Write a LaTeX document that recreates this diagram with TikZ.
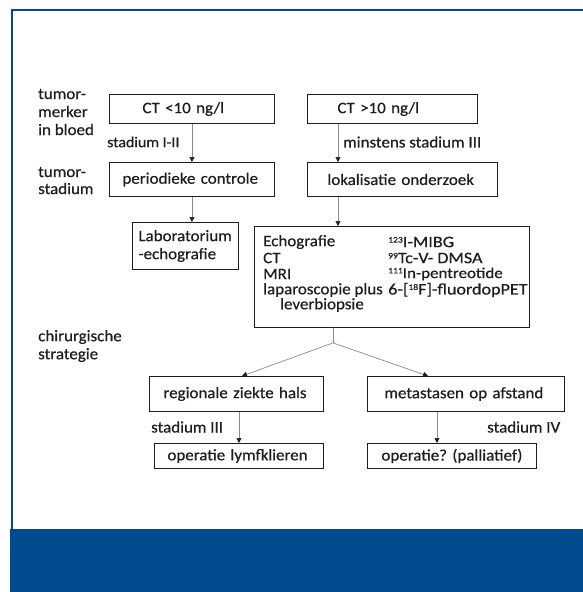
\documentclass[tikz,border=0pt]{standalone}
\usepackage{fontspec}
\setmainfont{Carlito}[FakeBold=0.6, FakeStretch=1.06]
\newfontfamily\widefont{Carlito}[FakeBold=0.6, FakeStretch=1.13]
\usetikzlibrary{arrows.meta,calc}
\definecolor{mblue}{HTML}{004A8F}
\definecolor{txt}{HTML}{1E1E1E}
\definecolor{lgray}{HTML}{8A8A8A}
\frenchspacing
\newcommand\supnum[1]{\raisebox{0.6ex}{\fontsize{8.5}{9}\selectfont #1}}
\begin{document}
\begin{tikzpicture}[x=1pt,y=-1pt,
  font=\fontsize{16}{18}\selectfont,
  box/.style={draw=txt, line width=0.9pt, inner ysep=0pt, text=txt, align=left, anchor=north west},
  lbl/.style={text=txt, align=left, anchor=west, inner sep=0pt},
  inb/.style={lbl, font=\fontsize{16}{16}\selectfont},
  inbw/.style={lbl, font=\widefont\fontsize{16}{16}\selectfont},
  arr/.style={draw=lgray, line width=0.7pt, -{Triangle[length=5pt,width=5pt,color=txt]}},
  ln/.style={draw=lgray, line width=0.7pt}]
\useasboundingbox (0,0) rectangle (583,592);
% frame
\fill[mblue] (10,529) rectangle (583,592);
\draw[mblue, line width=2.4pt] (12,529) -- (12,10) -- (583,10);
% left labels
\node[lbl] (l1) at (38,112) {tumor-\\merker\\in bloed};
\node[lbl, font=\fontsize{16}{17}\selectfont] (l2) at (38,180.5) {tumor-\\stadium};
\node[lbl] (l3) at (38,346) {chirurgische\\strategie};
% boxes
\node[box, minimum width=165pt, minimum height=29pt, text width=99pt, inner xsep=33pt] (ct1) at (109,94) {CT <10 ng/l};
\node[box, minimum width=170pt, minimum height=29pt, text width=110pt, inner xsep=30pt] (ct2) at (307,94) {CT >10 ng/l};
\node[box, minimum width=165pt, minimum height=34pt, text width=139pt, inner xsep=13pt] (per) at (109,162) {periodieke controle};
\node[box, minimum width=190pt, minimum height=34pt, text width=150pt, inner xsep=20pt] (lok) at (307,162) {lokalisatie onderzoek};
\node[box, minimum width=106pt, minimum height=47pt, text width=94pt, inner xsep=6pt] (lab) at (132,222) {Laboratorium\\-echografie};
\node[box, minimum width=275pt, minimum height=101pt, inner sep=0pt] (big) at (254,226) {};
\node[box, minimum width=174pt, minimum height=35pt, text width=146pt, inner xsep=14pt] (reg) at (149,376) {regionale ziekte hals};
\node[box, minimum width=197pt, minimum height=35pt, text width=163pt, inner xsep=17pt] (meta) at (367,376) {metastasen op afstand};
\node[box, minimum width=169pt, minimum height=25pt, text width=143pt, inner xsep=13pt] (op1) at (154,443) {operatie lymfklieren};
\node[box, minimum width=169pt, minimum height=25pt, text width=141pt, inner xsep=14pt] (op2) at (367,443) {operatie? (palliatief)};
% big box contents
\node[inb] (b1) at (263,242) {Echografie};
\node[inb] (b2) at (263,258) {CT};
\node[inb] (b3) at (263,274) {MRI};
\node[inb] (b4) at (263,290) {laparoscopie plus};
\node[inb] (b5) at (280,305) {leverbiopsie};
\node[inbw] (c1) at (388,242) {\supnum{123}I-MIBG};
\node[inbw] (c2) at (388,258) {\supnum{99}Tc-V- DMSA};
\node[inbw] (c3) at (388,274) {\supnum{111}{\fontsize{15}{15}\selectfont In-pentreotide}};
\node[inbw] (c4) at (388,290) {6-[\supnum{18}F]-fluordopPET};
% edge labels
\node[lbl, font=\fontsize{15}{18}\selectfont] (s1) at (107,142) {stadium I-II};
\node[lbl] (s2) at (343,142) {minstens stadium III};
\node[lbl] (s3) at (151,427) {stadium III};
\node[lbl] (s4) at (487,427) {stadium IV};
% connectors
\draw[arr] (ct1.south) -- (ct1.south |- per.north);
\draw[arr] (per.south) -- (per.south |- lab.north);
\coordinate (x2) at ($(ct2.south west)+(31,0)$);
\draw[arr] (x2) -- (x2 |- lok.north);
\coordinate (x3) at ($(lok.south west)+(31,0)$);
\draw[arr] (x3) -- (x3 |- big.north);
\coordinate (bt) at ($(big.south west)+(79,0)$);
\coordinate (apex) at ($(bt)+(0,15)$);
\draw[ln] (bt) -- (apex);
\draw[arr] (apex) -- ($(reg.north west)+(93,0)$);
\draw[arr] (apex) -- ($(meta.north west)+(61,0)$);
\coordinate (x4) at ($(reg.south west)+(90,0)$);
\draw[arr] (x4) -- (x4 |- op1.north);
\coordinate (x5) at ($(meta.south west)+(70,0)$);
\draw[arr] (x5) -- (x5 |- op2.north);
\end{tikzpicture}
\end{document}
